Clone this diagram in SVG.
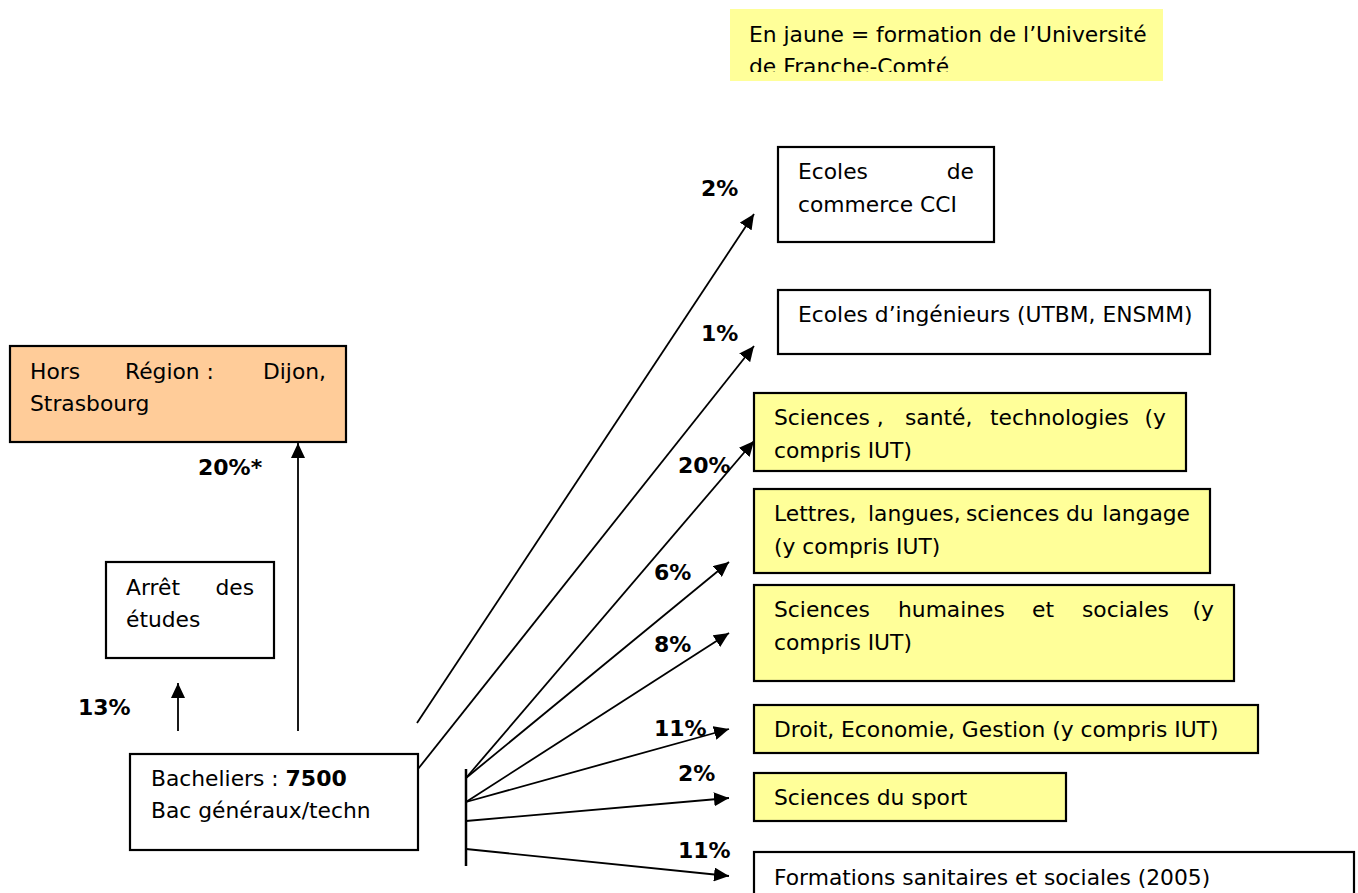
<svg xmlns="http://www.w3.org/2000/svg" width="1358" height="893" viewBox="0 0 1358 893">
<style>
.t{font-family:"DejaVu Sans","Liberation Sans",sans-serif;font-size:21.8px;fill:#000}
.b{font-family:"DejaVu Sans","Liberation Sans",sans-serif;font-size:22px;font-weight:bold;fill:#000}
.box{stroke:#000;stroke-width:2.2}
.w{fill:#fff}
.y{fill:#ffff99}
.o{fill:#ffcc99}
.c{stroke:#000;stroke-width:1.8;fill:none}
.e{text-anchor:end}
</style>
<defs>
<marker id="ah" markerUnits="userSpaceOnUse" markerWidth="16" markerHeight="14" refX="15" refY="7" orient="auto">
<path d="M0,0 L15,7 L0,14 z" fill="#000"/>
</marker>
<clipPath id="legclip"><rect x="730" y="9" width="433" height="63"/></clipPath>
</defs>
<rect width="1358" height="893" fill="#fff"/>

<g id="legend">
<rect x="730" y="9" width="433" height="72" class="y"/>
<g clip-path="url(#legclip)">
<text class="t" x="749" y="42">En jaune = formation de l’Université</text>
<text class="t" x="749" y="74">de Franche-Comté</text>
</g>
</g>

<g id="connectors">
<line class="c" x1="417" y1="723" x2="754" y2="214" marker-end="url(#ah)"/>
<line class="c" x1="418" y1="769" x2="754" y2="346" marker-end="url(#ah)"/>
<line class="c" x1="466" y1="778" x2="754" y2="441" marker-end="url(#ah)"/>
<line class="c" x1="466" y1="778" x2="729" y2="562" marker-end="url(#ah)"/>
<line class="c" x1="466" y1="802" x2="729" y2="633" marker-end="url(#ah)"/>
<line class="c" x1="466" y1="802" x2="729" y2="729" marker-end="url(#ah)"/>
<line class="c" x1="466" y1="821" x2="729" y2="798" marker-end="url(#ah)"/>
<line class="c" x1="466" y1="849" x2="729" y2="876" marker-end="url(#ah)"/>
<line class="c" x1="178" y1="731" x2="178" y2="683" marker-end="url(#ah)"/>
<line class="c" x1="298" y1="731" x2="298" y2="443" marker-end="url(#ah)"/>
<line x1="466" y1="769" x2="466" y2="866" stroke="#000" stroke-width="2.5"/>
</g>

<g id="labels">
<text class="b" x="701" y="196">2%</text>
<text class="b" x="701" y="341">1%</text>
<text class="b" x="678" y="473">20%</text>
<text class="b" x="654" y="580">6%</text>
<text class="b" x="654" y="652">8%</text>
<text class="b" x="654" y="736">11%</text>
<text class="b" x="678" y="781">2%</text>
<text class="b" x="678" y="858">11%</text>
<text class="b" x="78" y="715">13%</text>
<text class="b" x="198" y="475">20%*</text>
</g>

<g id="n-commerce">
<rect x="778" y="147" width="216" height="95" class="box w"/>
<text class="t" y="179"><tspan x="798">Ecoles</tspan><tspan x="974" class="e">de</tspan></text>
<text class="t" x="798" y="212">commerce CCI</text>
</g>

<g id="n-ingenieurs">
<rect x="778" y="290" width="432" height="64" class="box w"/>
<text class="t" x="798" y="322">Ecoles d’ingénieurs (UTBM, ENSMM)</text>
</g>

<g id="n-sciences">
<rect x="754" y="393" width="432" height="78" class="box y"/>
<text class="t" y="425"><tspan x="774">Sciences ,</tspan><tspan x="905">santé,</tspan><tspan x="990">technologies</tspan><tspan x="1166" class="e">(y</tspan></text>
<text class="t" x="774" y="458">compris IUT)</text>
</g>

<g id="n-lettres">
<rect x="754" y="489" width="456" height="84" class="box y"/>
<text class="t" y="521"><tspan x="774">Lettres,</tspan><tspan x="868">langues,</tspan><tspan x="966">sciences</tspan><tspan x="1066">du</tspan><tspan x="1190" class="e">langage</tspan></text>
<text class="t" x="774" y="554">(y compris IUT)</text>
</g>

<g id="n-humaines">
<rect x="754" y="585" width="480" height="96" class="box y"/>
<text class="t" y="617"><tspan x="774">Sciences</tspan><tspan x="898">humaines</tspan><tspan x="1032">et</tspan><tspan x="1082">sociales</tspan><tspan x="1214" class="e">(y</tspan></text>
<text class="t" x="774" y="650">compris IUT)</text>
</g>

<g id="n-droit">
<rect x="754" y="705" width="504" height="48" class="box y"/>
<text class="t" x="774" y="737">Droit, Economie, Gestion (y compris IUT)</text>
</g>

<g id="n-sport">
<rect x="754" y="773" width="312" height="48" class="box y"/>
<text class="t" x="774" y="805">Sciences du sport</text>
</g>

<g id="n-sanitaires">
<rect x="754" y="852" width="600" height="60" class="box w"/>
<text class="t" x="774" y="885">Formations sanitaires et sociales (2005)</text>
</g>

<g id="n-hors">
<rect x="10" y="346" width="336" height="96" class="box o"/>
<text class="t" y="379"><tspan x="30">Hors</tspan><tspan x="125">Région :</tspan><tspan x="326" class="e">Dijon,</tspan></text>
<text class="t" x="30" y="411">Strasbourg</text>
</g>

<g id="n-arret">
<rect x="106" y="562" width="168" height="96" class="box w"/>
<text class="t" y="595"><tspan x="126">Arrêt</tspan><tspan x="254" class="e">des</tspan></text>
<text class="t" x="126" y="627">études</text>
</g>

<g id="n-bacheliers">
<rect x="130" y="754" width="288" height="96" class="box w"/>
<text class="t" x="151" y="786">Bacheliers : <tspan class="b">7500</tspan></text>
<text class="t" x="151" y="818">Bac généraux/techn</text>
</g>
</svg>
